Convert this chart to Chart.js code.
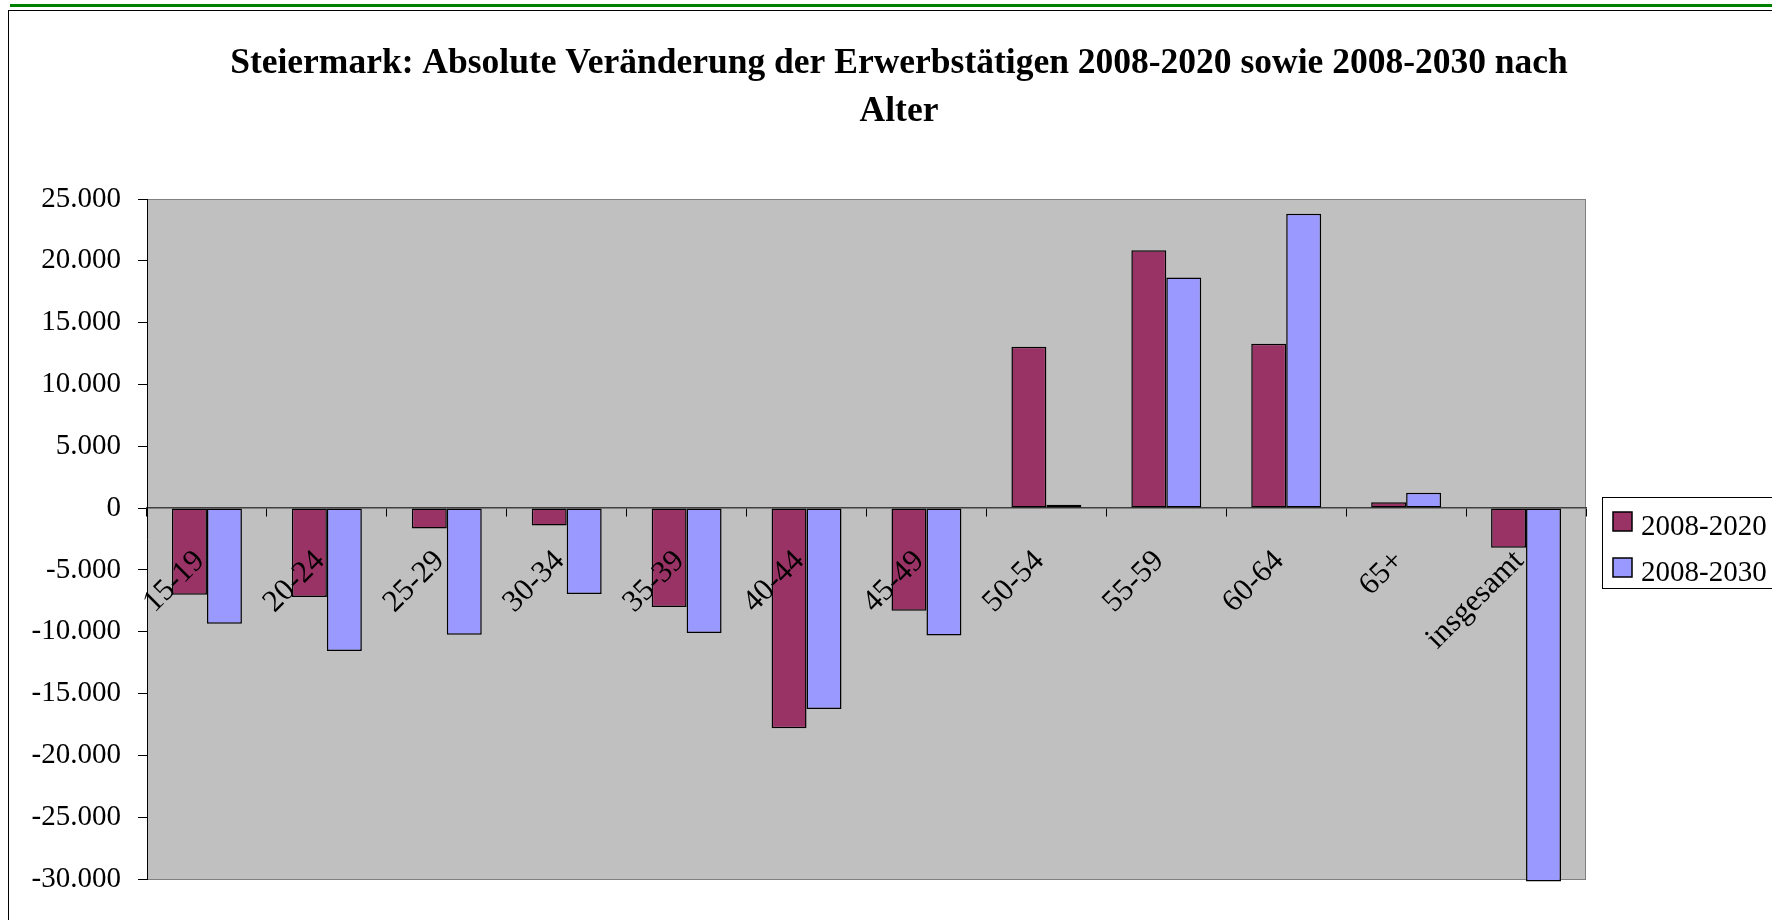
<!DOCTYPE html>
<html lang="de">
<head>
<meta charset="utf-8">
<title>Steiermark: Absolute Veränderung der Erwerbstätigen</title>
<script src="https://cdn.jsdelivr.net/npm/chart.js@4/dist/chart.umd.min.js"></script>
<style>
  html, body { margin: 0; padding: 0; background: #fff; overflow: hidden; width: 1772px; height: 920px; }
  #rule  { position: absolute; left: 10px; top: 4px; width: 1800px; height: 3px; background: #008000; }
  #frame { position: absolute; left: 8px; top: 10px; width: 1800px; height: 1000px;
           border-left: 1px solid #000; border-top: 1px solid #000; }
  #chart { position: absolute; left: 0; top: 0; }
</style>
</head>
<body>
<div id="rule"></div>
<div id="frame"></div>
<canvas id="chart" width="1798" height="920"></canvas>
<script>
// Age groups and the absolute change in employed persons per period
const categories = ['15-19', '20-24', '25-29', '30-34', '35-39', '40-44', '45-49',
                    '50-54', '55-59', '60-64', '65+', 'insgesamt'];
const change2008to2020 = [-7000, -7200, -1650, -1400, -8000, -17800, -8300,
                          13050, 20850, 13300, 480, -3200];
const change2008to2030 = [-9350, -11550, -10250, -6950, -10100, -16250, -10300,
                          280, 18650, 23800, 1250, -30200];
const seriesNames = ['2008-2020', '2008-2030'];
const seriesColors = ['#993366', '#9999FF'];

// Value axis range and step
const yMin = -30000;
const yMax = 25000;
const yStep = 5000;

const titleLines = ['Steiermark: Absolute Veränderung der Erwerbstätigen 2008-2020 sowie 2008-2030 nach', 'Alter'];

const SERIF = "'Liberation Serif', 'Times New Roman', Times, serif";

// German number style: thousands separated by dots
function formatThousands(v) {
  const s = String(Math.abs(v)).replace(/\B(?=(\d{3})+(?!\d))/g, '.');
  return (v < 0 ? '-' : '') + s;
}

// Grey plot area with a thin grey frame
const plotBackground = {
  id: 'plotBackground',
  beforeDraw(chart) {
    const { ctx, chartArea: a } = chart;
    ctx.save();
    ctx.fillStyle = '#C0C0C0';
    ctx.fillRect(a.left, a.top, a.right - a.left, a.bottom - a.top);
    ctx.strokeStyle = '#808080';
    ctx.lineWidth = 1;
    ctx.strokeRect(a.left + 0.5, a.top + 0.5, a.right - a.left - 1, a.bottom - a.top);
    ctx.restore();
  }
};

// Legend as a layout box on the right, framed like a spreadsheet legend
const sideLegend = {
  id: 'sideLegend',
  beforeInit(chart) {
    const box = {
      position: 'right',
      weight: 0,
      fullSize: false,
      options: { stackWeight: 1 },
      left: 0, top: 0, right: 0, bottom: 0, width: 0, height: 0,
      isHorizontal() { return false; },
      update(maxWidth, maxHeight) { this.width = 212; this.height = maxHeight; },
      getPadding() { return { left: 0, top: 0, right: 0, bottom: 0 }; },
      draw() {
        const ctx = chart.ctx;
        const cy = (this.top + this.bottom) / 2;
        const y0 = Math.round(cy - 42);
        const x0 = this.left + 16;
        ctx.save();
        ctx.fillStyle = '#fff';
        ctx.fillRect(x0, y0, 400, 91);
        ctx.strokeStyle = '#000';
        ctx.lineWidth = 1;
        ctx.strokeRect(x0 + 0.5, y0 + 0.5, 400, 91);
        ctx.font = '29px ' + SERIF;
        ctx.textBaseline = 'alphabetic';
        ctx.textAlign = 'left';
        chart.data.datasets.forEach((ds, i) => {
          const by = y0 + 15 + i * 46;
          ctx.fillStyle = ds.backgroundColor;
          ctx.fillRect(this.left + 27, by, 19, 19);
          ctx.lineWidth = 1.5;
          ctx.strokeRect(this.left + 27, by, 19, 19);
          ctx.fillStyle = '#000';
          ctx.fillText(ds.label, this.left + 55, by + 23);
        });
        ctx.restore();
      }
    };
    Chart.layouts.addBox(chart, box);
  }
};

new Chart(document.getElementById('chart'), {
  type: 'bar',
  data: {
    labels: categories,
    datasets: [
      {
        label: seriesNames[0],
        data: change2008to2020,
        backgroundColor: seriesColors[0],
        borderColor: '#000',
        borderWidth: 1.5,
        borderSkipped: false,
        categoryPercentage: 0.583,
        barPercentage: 1,
        clip: false
      },
      {
        label: seriesNames[1],
        data: change2008to2030,
        backgroundColor: seriesColors[1],
        borderColor: '#000',
        borderWidth: 1.5,
        borderSkipped: false,
        categoryPercentage: 0.583,
        barPercentage: 1,
        clip: false
      }
    ]
  },
  options: {
    responsive: false,
    animation: false,
    events: [],
    layout: { padding: { left: 0, right: 0, top: 0, bottom: 41 } },
    plugins: {
      legend: { display: false },
      tooltip: { enabled: false },
      title: {
        display: true,
        text: titleLines,
        color: '#000',
        font: { family: SERIF, size: 35.5, weight: 'bold', lineHeight: 48 / 35.5 },
        padding: { top: 40, bottom: 63 }
      }
    },
    scales: {
      x: {
        position: { y: 0 },
        offset: true,
        ticks: {
          z: 1,
          autoSkip: false,
          minRotation: 45,
          maxRotation: 45,
          padding: 27,
          labelOffset: -7,
          color: '#000',
          font: { family: SERIF, size: 31 }
        },
        grid: { offset: true, drawOnChartArea: false, drawTicks: true, tickLength: 8, color: '#000', lineWidth: 1 },
        border: { display: true, color: '#404040', width: 1.5 }
      },
      y: {
        min: yMin,
        max: yMax,
        afterFit(scale) { scale.width = 147; },
        ticks: {
          stepSize: yStep,
          padding: 17,
          color: '#000',
          font: { family: SERIF, size: 29 },
          callback: (v) => formatThousands(v)
        },
        grid: { drawOnChartArea: false, drawTicks: true, tickLength: 9, color: '#000', lineWidth: 1 },
        border: { display: true, color: '#000', width: 1 }
      }
    }
  },
  plugins: [plotBackground, sideLegend]
});
</script>
</body>
</html>
